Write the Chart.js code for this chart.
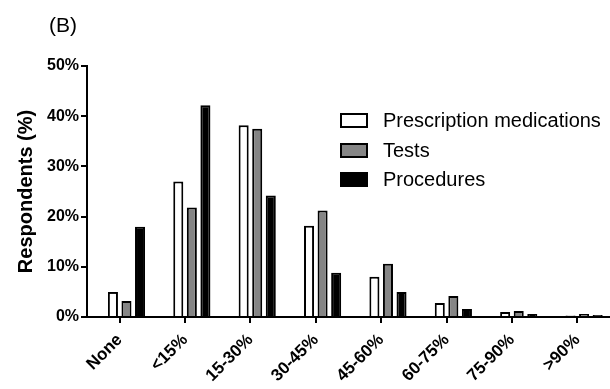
<!DOCTYPE html>
<html>
<head>
<meta charset="utf-8">
<script src="https://cdn.jsdelivr.net/npm/chart.js@4"></script>
<style>
  html, body { margin: 0; padding: 0; background: #fff; }
  #wrap { width: 610px; height: 389px; }
</style>
</head>
<body>
<div id="wrap"><canvas id="barChart"></canvas></div>
<script>
// Categories and series (percent of respondents)
const categories = ['None', '<15%', '15-30%', '30-45%', '45-60%', '60-75%', '75-90%', '>90%'];
const prescriptionData = [5.0, 27.0, 38.2, 18.2, 8.0, 2.8, 1.0, 0.3];
const testsData = [3.2, 21.8, 37.5, 21.2, 10.6, 4.2, 1.2, 0.6];
const proceduresData = [18.0, 42.2, 24.2, 8.8, 5.0, 1.6, 0.6, 0.4];
const panelLabel = '(B)';

// Draws "(B)" and the boxed legend in the top-right of the plot
const panelPlugin = {
  id: 'panelPlugin',
  afterDraw(chart) {
    const ctx = chart.ctx;
    ctx.save();
    ctx.fillStyle = '#000';
    ctx.font = '21px Arial, "Liberation Sans"';
    ctx.textBaseline = 'alphabetic';
    ctx.textAlign = 'left';
    ctx.fillText(panelLabel, 49, 32);

    const rows = chart.data.datasets.filter(d => !d.hideLegend);
    const rowY = [120, 150, 179];
    rows.forEach((ds, i) => {
      const y = rowY[i];
      ctx.fillStyle = ds.backgroundColor;
      ctx.fillRect(341, y - 6, 26, 13);
      ctx.strokeStyle = '#000';
      ctx.lineWidth = 2;
      ctx.strokeRect(341, y - 6, 26, 13);
      ctx.fillStyle = '#000';
      ctx.font = '20px Arial, "Liberation Sans"';
      ctx.textBaseline = 'middle';
      ctx.fillText(ds.label, 383, y + 1);
    });
    ctx.restore();
  }
};

const ctxBar = document.getElementById('barChart').getContext('2d');
const barChart = new Chart(ctxBar, {
  type: 'bar',
  data: {
    labels: categories,
    datasets: [
      // empty slot so the tick falls between the first two bars
      { label: '', data: categories.map(() => null), hideLegend: true, backgroundColor: '#fff' },
      { label: 'Prescription medications', data: prescriptionData, backgroundColor: '#ffffff', borderColor: '#000', borderWidth: 2 },
      { label: 'Tests', data: testsData, backgroundColor: '#858585', borderColor: '#000', borderWidth: 2 },
      { label: 'Procedures', data: proceduresData, backgroundColor: '#000000', borderColor: '#000', borderWidth: 2 }
    ]
  },
  options: {
    responsive: true,
    maintainAspectRatio: false,
    animation: false,
    layout: { padding: { top: 66, right: -2, left: 0, bottom: 0 } },
    categoryPercentage: 0.83,
    barPercentage: 0.74,
    plugins: {
      legend: { display: false },
      tooltip: { enabled: false }
    },
    scales: {
      x: {
        offset: true,
        afterFit: s => { s.height = 72; },
        border: { color: '#000', width: 2 },
        grid: { offset: false, drawOnChartArea: false, drawTicks: true, tickLength: 6, color: '#000', lineWidth: 2 },
        ticks: {
          color: '#000',
          font: { family: 'Arial, "Liberation Sans"', size: 17, weight: 'bold' },
          minRotation: 45, maxRotation: 45, padding: 7, autoSkip: false
        }
      },
      y: {
        min: 0, max: 50,
        afterFit: s => { s.width = 87; },
        border: { color: '#000', width: 2 },
        grid: { drawOnChartArea: false, drawTicks: true, tickLength: 6, color: '#000', lineWidth: 2 },
        ticks: {
          stepSize: 10, color: '#000', padding: 2,
          font: { family: 'Arial, "Liberation Sans"', size: 16, weight: 'bold' },
          callback: v => v + '%'
        },
        title: {
          display: true, text: 'Respondents (%)', color: '#000',
          font: { family: 'Arial, "Liberation Sans"', size: 20, weight: 'bold' },
          padding: { top: 14, bottom: 4 }
        }
      }
    }
  },
  plugins: [panelPlugin]
});
</script>
</body>
</html>
